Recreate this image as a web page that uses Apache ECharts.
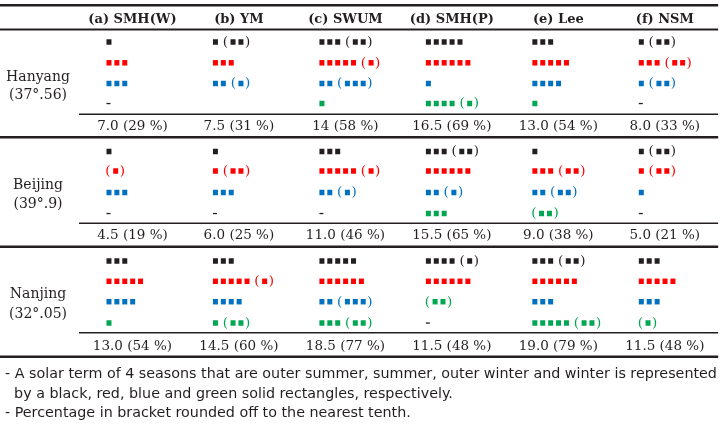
<!DOCTYPE html>
<html><head><meta charset="utf-8">
<script src="https://cdn.jsdelivr.net/npm/echarts@6/dist/echarts.min.js"></script>
<style>html,body{margin:0;padding:0;background:#fff}#c{width:724px;height:425px}</style>
</head><body><div id="c"></div>
<script>
// ---------------- DATA ----------------
const methods = ['(a) SMH(W)', '(b) YM', '(c) SWUM', '(d) SMH(P)', '(e) Lee', '(f) NSM'];
const cities = ['Hanyang', 'Beijing', 'Nanjing'];
const latitudes = ['(37°.56)', '(39°.9)', '(32°.05)'];
const seasons = ['outer summer', 'summer', 'outer winter', 'winter'];
const seasonColors = ['#231f20', '#ff0000', '#0070c0', '#00a651'];

// solid rectangles per season (rows) x method (cols); null = empty cell
const hanyangSolid   = [[1, 1, 3, 5, 3, 1], [3, 3, 5, 6, 5, 3], [3, 2, 2, 1, 4, 1], [0, null, 1, 4, 1, 0]];
const hanyangBracket = [[0, 2, 2, 0, 0, 2], [0, 0, 1, 0, 0, 2], [0, 1, 3, 0, 0, 2], [0, 0, 0, 1, 0, 0]];
const beijingSolid   = [[1, 1, 3, 3, 1, 1], [0, 1, 5, 6, 3, 1], [3, 3, 2, 2, 2, 1], [0, 0, 0, 3, 0, 0]];
const beijingBracket = [[0, 0, 0, 2, 0, 2], [1, 2, 1, 0, 2, 2], [0, 0, 1, 1, 2, 0], [0, 0, 0, 0, 2, 0]];
const nanjingSolid   = [[3, 3, 5, 4, 3, 3], [5, 5, 6, 6, 6, 5], [4, 4, 2, 0, 3, 3], [1, 1, 3, 0, 5, 0]];
const nanjingBracket = [[0, 0, 0, 1, 2, 0], [0, 1, 0, 0, 0, 0], [0, 0, 3, 2, 0, 0], [0, 2, 2, 0, 2, 1]];
// bracket drawn in another season's colour in the source: [city, season, method, colourSeason]
const bracketColourOverrides = [[2, 2, 3, 3]];

const hanyangTotals = ['7.0', '7.5', '14', '16.5', '13.0', '8.0'];
const beijingTotals = ['4.5', '6.0', '11.0', '15.5', '9.0', '5.0'];
const nanjingTotals = ['13.0', '14.5', '18.5', '11.5', '19.0', '11.5'];
const hanyangPct = [29, 31, 58, 69, 54, 33];
const beijingPct = [19, 25, 46, 65, 38, 21];
const nanjingPct = [54, 60, 77, 48, 79, 48];

const notes = [
  '- A solar term of 4 seasons that are outer summer, summer, outer winter and winter is represented',
  '  by a black, red, blue and green solid rectangles, respectively.',
  '- Percentage in bracket rounded off to the nearest tenth.'
];

// ---------------- LAYOUT ----------------
const INK = '#231f20';
const SERIF = '"DejaVu Serif", serif';
const ROW_Y = [[42, 62.8, 83.5, 103.5], [151.5, 171, 192.5, 213.5], [261, 281.3, 301.7, 323]];
const SUM_Y = [126.6, 235.6, 346.4];
const LABEL_Y = [[77.4, 95.4], [185.4, 204.4], [294.4, 314.4]];
const HEADER_Y = 19.2;
const SQ = 5, SQH = 5.5, PITCH = 7.9;

const solids = [hanyangSolid, beijingSolid, nanjingSolid];
const brackets = [hanyangBracket, beijingBracket, nanjingBracket];
const totals = [hanyangTotals, beijingTotals, nanjingTotals];
const pcts = [hanyangPct, beijingPct, nanjingPct];

// cell marks
const cellData = [];
for (let c = 0; c < 3; c++) for (let s = 0; s < 4; s++) for (let m = 0; m < 6; m++) {
  const n = solids[c][s][m];
  if (n === null) continue;
  let bc = s;
  bracketColourOverrides.forEach(o => { if (o[0] === c && o[1] === s && o[2] === m) bc = o[3]; });
  cellData.push([m, ROW_Y[c][s], n, brackets[c][s][m], s, bc]);
}

// texts
const texts = [];
methods.forEach((t, m) => texts.push({ x: m + 0.244, y: HEADER_Y, t, head: true }));
cities.forEach((t, c) => {
  texts.push({ x: -0.643, y: LABEL_Y[c][0], t });
  texts.push({ x: -0.643, y: LABEL_Y[c][1], t: latitudes[c] });
  for (let m = 0; m < 6; m++) texts.push({ x: m + 0.244, y: SUM_Y[c], t: totals[c][m] + ' (' + pcts[c][m] + ' %)', sum: true });
});

// rules: [x1, x2, y, width]
const rules = [
  [-1, 5.745, 5.3, 2.6], [-1, 5.745, 29.5, 2.2],
  [-0.258, 5.745, 114.2, 1.4], [-1, 5.745, 137.3, 2.6],
  [-0.258, 5.745, 223.3, 1.4], [-1, 5.745, 246.7, 2.6],
  [-0.258, 5.745, 332.7, 1.4], [-1, 5.745, 356.7, 2.6]
];

const chart = echarts.init(document.getElementById('c'), null, { renderer: 'canvas' });
chart.setOption({
  animation: false,
  backgroundColor: '#fff',
  grid: { left: 0, right: 0, top: 0, bottom: 0 },
  xAxis: { type: 'value', min: -1, max: 5.8, show: false },
  yAxis: { type: 'value', min: 0, max: 425, inverse: true, show: false },
  graphic: notes.map((t, i) => ({
    type: 'text', x: 5, y: [374.2, 394.2, 413.6][i],
    style: { text: t, fill: INK, fontFamily: '"DejaVu Sans", sans-serif', fontSize: 14.3, verticalAlign: 'middle', align: 'left' }
  })),
  series: [
    {
      type: 'custom', name: 'rules', silent: true, data: rules,
      renderItem(params, api) {
        const a = api.coord([api.value(0), api.value(2)]);
        const b = api.coord([api.value(1), api.value(2)]);
        const w = api.value(3);
        return { type: 'rect', shape: { x: a[0], y: a[1] - w / 2, width: b[0] - a[0], height: w }, style: { fill: INK } };
      }
    },
    {
      type: 'custom', name: 'texts', silent: true, data: texts.map(t => [t.x, t.y]),
      renderItem(params, api) {
        const it = texts[params.dataIndex];
        const p = api.coord([api.value(0), api.value(1)]);
        return {
          type: 'text',
          style: {
            text: it.t, x: p[0], y: p[1], align: 'center', verticalAlign: 'middle',
            fill: INK, fontFamily: SERIF, fontSize: it.head ? 13 : (it.sum ? 13.5 : 14),
            fontWeight: it.head ? 'bold' : 'normal'
          }
        };
      }
    },
    {
      type: 'custom', name: 'seasons', silent: true, data: cellData,
      renderItem(params, api) {
        const p = api.coord([api.value(0), api.value(1)]);
        const n = api.value(2), m = api.value(3);
        const col = seasonColors[api.value(4)], bcol = seasonColors[api.value(5)];
        const x0 = p[0], cy = p[1];
        const ch = [];
        if (n === 0 && m === 0) {
          ch.push({ type: 'rect', shape: { x: x0, y: cy - 0.6, width: 4, height: 1.3 }, style: { fill: INK } });
          return { type: 'group', children: ch };
        }
        for (let i = 0; i < n; i++) {
          ch.push({ type: 'rect', shape: { x: x0 + i * PITCH, y: cy - SQH / 2, width: SQ, height: SQH }, style: { fill: col } });
        }
        if (m > 0) {
          const xb = x0 + n * PITCH + (n > 0 ? 3 : 0);
          ch.push({ type: 'text', style: { text: '(', x: xb - 1.1, y: cy + 0.3, align: 'left', verticalAlign: 'middle', fill: bcol, fontFamily: SERIF, fontSize: 13.5 } });
          const xi = xb + 6.7;
          for (let j = 0; j < m; j++) {
            ch.push({ type: 'rect', shape: { x: xi + j * PITCH, y: cy - SQH / 2, width: SQ, height: SQH }, style: { fill: bcol } });
          }
          const xr = xi + (m - 1) * PITCH + SQ + 2.7;
          ch.push({ type: 'text', style: { text: ')', x: xr - 1.2, y: cy + 0.3, align: 'left', verticalAlign: 'middle', fill: bcol, fontFamily: SERIF, fontSize: 13.5 } });
        }
        return { type: 'group', children: ch };
      }
    }
  ]
});
</script>
</body></html>
